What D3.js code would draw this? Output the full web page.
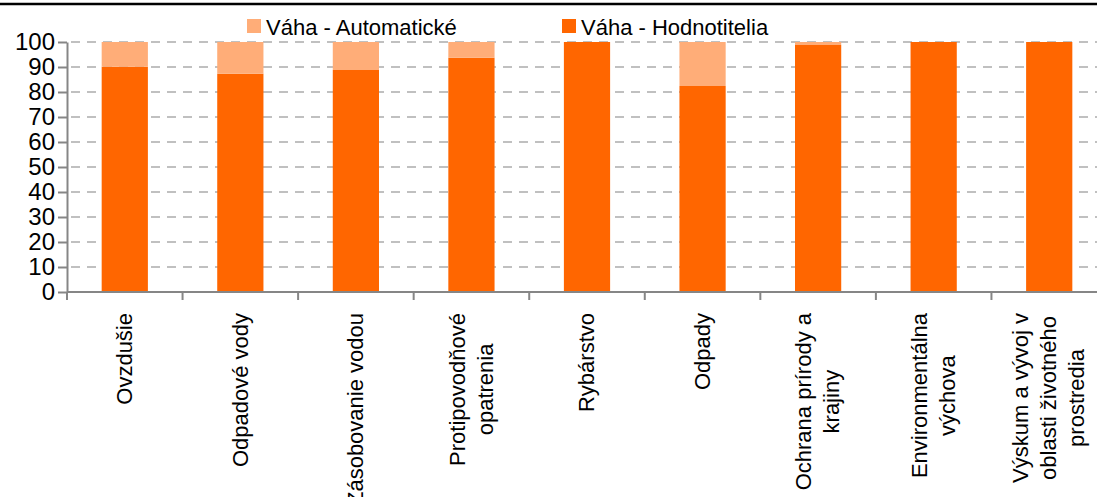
<!DOCTYPE html>
<html>
<head>
<meta charset="utf-8">
<script src="https://cdn.jsdelivr.net/npm/d3@7"></script>
<style>
body { margin: 0; background: #fff; }
text { font-family: "Liberation Sans", Arial, sans-serif; fill: #000; }
</style>
</head>
<body>
<div id="chart"></div>
<script>
// data
var categories = ["Ovzdušie", "Odpadové vody", "Zásobovanie vodou", "Protipovodňové\nopatrenia",
	"Rybárstvo", "Odpady", "Ochrana prírody a\nkrajiny", "Environmentálna\nvýchova",
	"Výskum a vývoj v\noblasti životného\nprostredia"];
var hodnotitelia = [90.1, 87.3, 88.8, 93.7, 100, 82.4, 98.8, 100, 100];
var automaticke = [9.9, 12.7, 11.2, 6.3, 0, 17.6, 1.2, 0, 0];
var yTicks = [0, 10, 20, 30, 40, 50, 60, 70, 80, 90, 100];
var seriesNames = ["Váha - Automatické", "Váha - Hodnotitelia"];
var colors = {auto: "#ffad78", hodn: "#ff6600"};

var W = 1097, H = 497;
var m = {left: 67, right: 1107, top: 42, bottom: 292};

var svg = d3.select("#chart").append("svg")
	.attr("width", W)
	.attr("height", H);

// black rule at the very top
svg.append("line")
	.attr("x1", 0).attr("x2", W)
	.attr("y1", 4).attr("y2", 4)
	.attr("stroke", "#000")
	.attr("stroke-width", 2.5);

var x = d3.scaleBand()
	.domain(categories)
	.range([m.left, m.right])
	.padding(0);
var xBar = d3.scaleBand()
	.domain(categories)
	.range([m.left, m.right])
	.paddingInner(0.6)
	.paddingOuter(0.3);
var y = d3.scaleLinear()
	.domain([0, 100])
	.range([m.bottom, m.top]);

// dashed grid
svg.append("g")
	.selectAll("line")
	.data(yTicks.filter(function(d){ return d > 0; }))
	.enter().append("line")
		.attr("x1", m.left).attr("x2", W)
		.attr("y1", function(d){ return y(d); })
		.attr("y2", function(d){ return y(d); })
		.attr("stroke", "#c0c0c0")
		.attr("stroke-width", 2)
		.attr("stroke-dasharray", "9,7")
		.attr("stroke-dashoffset", -4);

// stacked bars
var rows = categories.map(function(c, i){
	return {cat: c, hodn: hodnotitelia[i], auto: automaticke[i]};
});
var g = svg.append("g");
g.selectAll(".hodn")
	.data(rows)
	.enter().append("rect")
		.attr("class", "hodn")
		.attr("fill", colors.hodn)
		.attr("x", function(d){ return xBar(d.cat); })
		.attr("width", xBar.bandwidth())
		.attr("y", function(d){ return y(d.hodn); })
		.attr("height", function(d){ return y(0) - y(d.hodn); });
g.selectAll(".auto")
	.data(rows)
	.enter().append("rect")
		.attr("class", "auto")
		.attr("fill", colors.auto)
		.attr("x", function(d){ return xBar(d.cat); })
		.attr("width", xBar.bandwidth())
		.attr("y", function(d){ return y(d.hodn + d.auto); })
		.attr("height", function(d){ return y(d.hodn) - y(d.hodn + d.auto); });

// y axis
var yAxis = svg.append("g")
	.attr("transform", "translate(" + m.left + ",0)")
	.call(d3.axisLeft(y).tickValues(yTicks).tickSize(9).tickPadding(3).tickSizeOuter(0));
yAxis.select(".domain").attr("stroke", "#868686").attr("stroke-width", 2);
yAxis.selectAll(".tick line").attr("stroke", "#868686").attr("stroke-width", 2);
yAxis.selectAll(".tick text")
	.style("font-family", "'Liberation Sans', Arial, sans-serif")
	.style("font-size", "24px")
	.attr("fill", "#000");

// x axis line and ticks at category boundaries
svg.append("line")
	.attr("x1", m.left).attr("x2", W)
	.attr("y1", m.bottom).attr("y2", m.bottom)
	.attr("stroke", "#868686")
	.attr("stroke-width", 2);
svg.append("g")
	.selectAll("line")
	.data(categories)
	.enter().append("line")
		.attr("x1", function(d){ return x(d); })
		.attr("x2", function(d){ return x(d); })
		.attr("y1", m.bottom).attr("y2", m.bottom + 8)
		.attr("stroke", "#868686")
		.attr("stroke-width", 2);

// rotated category labels, lines centred, longest line against the axis
var lh = 28;
categories.forEach(function(c){
	var lines = c.split("\n");
	var cx = x(c) + x.bandwidth() / 2;
	var t = svg.append("text")
		.style("font-size", "22px")
		.attr("text-anchor", "middle");
	lines.forEach(function(l, i){
		t.append("tspan")
			.attr("x", 0)
			.attr("y", (i - (lines.length - 1) / 2) * lh)
			.attr("dy", "0.33em")
			.text(l);
	});
	var maxLen = d3.max(t.selectAll("tspan").nodes(), function(n){ return n.getComputedTextLength(); });
	t.attr("transform", "translate(" + cx + "," + (313 + maxLen / 2) + ") rotate(-90)");
});

// legend
var legendX = [247, 562];
var legendCol = [colors.auto, colors.hodn];
seriesNames.forEach(function(s, i){
	svg.append("rect")
		.attr("x", legendX[i]).attr("y", 19)
		.attr("width", 14).attr("height", 14)
		.attr("fill", legendCol[i]);
	svg.append("text")
		.attr("x", legendX[i] + 19)
		.attr("y", 35)
		.style("font-size", "22px")
		.text(s);
});
</script>
</body>
</html>
